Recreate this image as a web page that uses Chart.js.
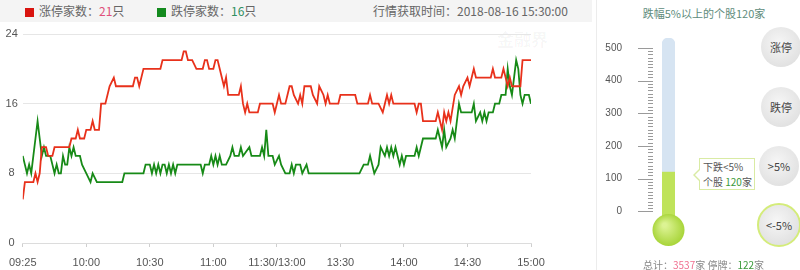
<!DOCTYPE html>
<html>
<head>
<meta charset="utf-8">
<script src="https://cdn.jsdelivr.net/npm/chart.js@4"></script>
<style>
  body { margin: 0; width: 800px; height: 270px; background: #fff; position: relative; overflow: hidden;
         font-family: "Noto Sans CJK SC", "Noto Sans", sans-serif; color: #666; }
  .abs { position: absolute; }
  #head { left: 0; top: 0; width: 592px; height: 22px; background: #f4f4f4; font-size: 12px; line-height: 22px; }
  .sq { display: inline-block; width: 9px; height: 9px; vertical-align: -1px; margin-right: 5px; }
  #sep { left: 596px; top: 0; width: 1px; height: 270px; background: #ececec; }
  .btn { width: 40px; height: 40px; border-radius: 50%; background: radial-gradient(circle at 45% 40%, #f6f6f6, #dadada);
         font-size: 11px; color: #444; text-align: center; line-height: 40px; }
  #tip { left: 699px; top: 158px; width: 56px; height: 32px; border: 1px solid #d9eba4; background: #fff; white-space: nowrap;
         font-size: 10px; line-height: 15px; color: #555; padding-left: 3px; box-sizing: border-box; }
  #tip:before { content: ""; position: absolute; left: -7px; top: 10px; border: 6px solid transparent; border-right-color: #d9eba4; border-left: 0; }
  #tip:after { content: ""; position: absolute; left: -5px; top: 11px; border: 5px solid transparent; border-right-color: #fff; border-left: 0; }
</style>
</head>
<body>
<div id="head" class="abs">
  <span class="abs" style="left:25px;"><span class="sq" style="background:#d9140f"></span>涨停家数：<span style="color:#e0507a">21</span>只</span>
  <span class="abs" style="left:157px;"><span class="sq" style="background:#138a1e"></span>跌停家数：<span style="color:#2f8f5f">16</span>只</span>
  <span class="abs" style="left:373px;">行情获取时间：2018-08-16 15:30:00</span>
</div>
<div class="abs" style="left:497px;top:26px;font-size:17px;font-weight:bold;color:rgba(0,0,0,0.035);">金融界</div>
<div class="abs" style="left:0;top:0;width:592px;height:270px;"><canvas id="lineChart"></canvas></div>
<div id="sep" class="abs"></div>
<div class="abs" style="left:604px;top:5px;width:200px;text-align:center;font-size:11px;color:#5e8c7c;">跌幅5%以上的个股120家</div>
<div class="abs" style="left:600px;top:0;width:90px;height:270px;"><canvas id="thermoChart"></canvas></div>
<div id="tip" class="abs">下跌&lt;5%<br>个股 <span style="color:#3a9a3a">120</span>家</div>
<div class="abs btn" style="left:761px;top:27px;">涨停</div>
<div class="abs btn" style="left:761px;top:87px;">跌停</div>
<div class="abs btn" style="left:759px;top:146px;">&gt;5%</div>
<div class="abs btn" style="left:757px;top:203px;border:2px solid #d4ec7a;">&lt;-5%</div>
<div class="abs" style="left:643px;top:257px;font-size:10px;color:#888;">总计：<span style="color:#f07090">3537</span>家 停牌：<span style="color:#3a9a3a">122</span>家</div>

<script>
// minutes since 09:30 (09:25 auction shown at 0), lunch break removed
const timeLabels = ['09:25', '10:00', '10:30', '11:00', '11:30/13:00', '13:30', '14:00', '14:30', '15:00'];
const yTicks = [0, 8, 16, 24];

const redMinutes = [0,1,5,6,7,8,9,11,12,14,15,22,23,25,26,27,29,30,32,33,34,36,37,39,41,43,44,52,53,54,55,57,65,66,75,76,77,78,80,82,85,86,87,88,90,91,92,93,94,95,96,97,99,102,103,104,105,106,107,111,112,118,119,121,122,124,126,127,128,130,131,132,133,136,137,139,140,142,143,144,145,149,150,157,158,163,164,165,168,170,171,172,173,174,175,185,186,187,188,189,195,196,197,198,199,200,201,202,204,206,207,208,210,211,212,213,214,221,222,223,226,227,229,230,231,235,236,240];
const redValues = [5,7,7,8,7,8,11,11,10,10,11,11,12,12,13,12,12,13,13,14,13,13,16,16,18,19,18,18,19,19,18,20,20,21,21,22,22,21,21,20,20,21,21,20,20,21,21,20,19,18,19,17,17,17,18,16,15,16,15,15,16,16,15,17,16,16,18,18,17,16,17,16,18,18,17,16,18,17,16,17,16,16,17,17,16,16,17,16,16,15,16,17,16,17,16,16,15,16,16,14,14,15,14,13,15,14,15,14,17,18,17,18,19,18,19,20,19,19,20,19,19,20,18,19,18,18,21,21];

const greenMinutes = [0,1,2,3,4,5,6,7,8,9,10,11,13,14,15,16,17,18,19,20,21,22,23,24,25,27,28,30,32,33,35,47,48,57,58,60,61,62,63,64,65,66,67,68,69,70,71,72,73,84,85,86,88,89,90,91,92,93,94,96,98,99,100,102,103,104,107,108,112,113,114,115,116,118,119,121,122,124,126,127,128,129,131,132,134,135,159,161,163,164,165,166,168,169,171,172,173,174,175,176,178,179,180,181,185,186,187,188,189,195,196,197,198,199,200,202,203,204,206,207,212,213,214,216,217,218,219,220,222,223,225,226,228,229,230,231,232,233,234,235,236,237,239,240];
const greenValues = [10,9,8,9,8,10,12,14,12,10,11,10,10,9,8,9,8,8,10,9,9,11,10,11,10,10,9,8,7,8,7,7,8,8,9,9,8,9,8,9,8,9,9,8,9,8,9,8,9,9,8,9,9,10,9,10,9,10,9,9,10,11,10,10,11,10,11,10,10,11,10,13,10,10,9,10,9,8,8,9,8,9,9,8,9,8,8,9,9,10,9,8,9,11,10,11,10,11,10,11,9,10,9,10,10,11,10,11,12,12,13,12,11,13,11,12,13,12,16,15,15,16,14,15,14,15,14,15,15,16,16,17,17,20,18,17,19,21,20,17,16,17,17,16];

// thermometer: stocks down more than 5%
const thermoTicks = [0, 100, 200, 300, 400, 500];
const thermoValue = [120];
const thermoTop = [530];
const thermoBase = -60;

const toPoints = (xs, ys) => xs.map((x, i) => ({ x: x, y: ys[i] }));

new Chart(document.getElementById('lineChart'), {
  type: 'line',
  data: {
    datasets: [
      { label: '涨停家数', data: toPoints(redMinutes, redValues), borderColor: '#e8311b', borderWidth: 1.8,
        pointRadius: 0, tension: 0, fill: false },
      { label: '跌停家数', data: toPoints(greenMinutes, greenValues), borderColor: '#178a17', borderWidth: 1.8,
        pointRadius: 0, tension: 0, fill: false }
    ]
  },
  options: {
    responsive: true,
    maintainAspectRatio: false,
    animation: false,
    layout: { padding: { top: 34, right: 61, left: 0, bottom: 0 } },
    plugins: { legend: { display: false }, tooltip: { enabled: false } },
    scales: {
      x: {
        type: 'linear', min: 0, max: 240,
        afterBuildTicks: (s) => { s.ticks = timeLabels.map((_, i) => ({ value: i * 30 })); },
        afterFit: (s) => { s.height = 27; },
        ticks: { callback: (v) => timeLabels[v / 30], autoSkip: false, maxRotation: 0, padding: 9,
                 color: '#555', font: { family: 'Liberation Sans', size: 11 } },
        grid: { drawOnChartArea: false, drawTicks: true, tickLength: 4, color: '#cfcfcf' },
        border: { display: true, color: '#dcdcdc' }
      },
      y: {
        min: 0, max: 24,
        afterBuildTicks: (s) => { s.ticks = yTicks.map((v) => ({ value: v })); },
        afterFit: (s) => { s.width = 19; },
        ticks: { crossAlign: 'center', padding: 5, color: '#555', font: { family: 'Liberation Sans', size: 11 } },
        grid: { color: '#e6e6e6', drawTicks: false },
        border: { display: false }
      }
    }
  }
});

const thermoPlugin = {
  id: 'thermoRuler',
  beforeDatasetsDraw(chart) {
    const { ctx } = chart;
    const y = chart.scales.y;
    ctx.save();
    ctx.strokeStyle = '#9a9a9a';
    ctx.lineWidth = 1;
    for (let v = 0; v <= 500; v += 10) {
      const py = Math.round(y.getPixelForValue(v)) + 0.5;
      ctx.beginPath();
      ctx.moveTo(v % 100 === 0 ? 38 : 48, py);
      ctx.lineTo(53, py);
      ctx.stroke();
    }
    ctx.restore();
  },
  afterDatasetsDraw(chart) {
    const { ctx } = chart;
    const area = chart.chartArea;
    const cx = (area.left + area.right) / 2;
    const cy = chart.scales.y.getPixelForValue(-57);
    const g = ctx.createRadialGradient(cx - 4, cy - 5, 2, cx, cy, 17);
    g.addColorStop(0, '#dcf393');
    g.addColorStop(1, '#a5d334');
    ctx.save();
    ctx.fillStyle = g;
    ctx.beginPath();
    ctx.arc(cx, cy, 16, 0, Math.PI * 2);
    ctx.fill();
    ctx.restore();
  }
};

new Chart(document.getElementById('thermoChart'), {
  type: 'bar',
  data: {
    labels: ['下跌'],
    datasets: [
      { data: thermoValue, base: thermoBase, backgroundColor: '#bfe35a', grouped: false,
        barPercentage: 1, categoryPercentage: 1 },
      { data: thermoTop, base: thermoBase, backgroundColor: '#d6e4f2', grouped: false,
        barPercentage: 1, categoryPercentage: 1, borderRadius: { topLeft: 7, topRight: 7 }, borderSkipped: 'bottom' }
    ]
  },
  options: {
    responsive: true,
    maintainAspectRatio: false,
    animation: false,
    layout: { padding: { top: 33, bottom: 39, left: 0, right: 15 } },
    plugins: { legend: { display: false }, tooltip: { enabled: false } },
    scales: {
      x: { display: false },
      y: {
        min: thermoBase, max: 530,
        afterBuildTicks: (s) => { s.ticks = thermoTicks.map((v) => ({ value: v })); },
        afterFit: (s) => { s.width = 62; },
        ticks: { padding: 32, color: '#555', font: { family: 'Liberation Sans', size: 10 } },
        grid: { display: false },
        border: { display: false }
      }
    }
  },
  plugins: [thermoPlugin]
});
</script>
</body>
</html>
